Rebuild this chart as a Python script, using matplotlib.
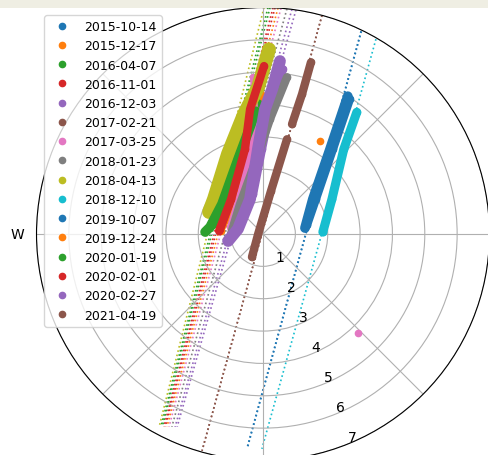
import numpy as np
import matplotlib
matplotlib.use('Agg')
import matplotlib.pyplot as plt
from matplotlib.patches import Rectangle

dates = ['2015-10-14', '2015-12-17', '2016-04-07', '2016-11-01', '2016-12-03',
         '2017-02-21', '2017-03-25', '2018-01-23', '2018-04-13', '2018-12-10',
         '2019-10-07', '2019-12-24', '2020-01-19', '2020-02-01', '2020-02-27',
         '2021-04-19']

# view azimuth (deg, clockwise from N) and zenith (deg) of the AOI pixels
band_az = [
    [32.8, 39.5, 56.6, 78.4],
    [359.2, 355.5, 350.0, 322.4, 274.1],
    [357.8, 344.9, 311.9, 280.0],
    [359.6, 353.3, 346.0, 311.4, 273.9],
    [6.9, 3.2, 359.3, 346.0, 293.5],
    [15.6, 15.6, 14.8],
    [356.4, 356.3, 352.0, 330.1, 282.0],
    [8.7, 3.5, 355.0, 322.0, 270.0],
    [1.86, 358.1, 351.0, 336.4, 305.5, 292.2],
    [37.6, 43.6, 63.1, 88.1],
    [31.6, 38.3, 55.0, 81.9],
    [31.5],
    [356.7, 341.6, 306.2, 277.5, 272.0],
    [0.34, 354.1, 348.0, 317.5, 276.6],
    [5.6, 3.6, 0.9, 356.6, 339.6, 281.3, 258.7],
    [14.2, 10.5, 270.0, 205.6],
]
band_zen = [
    [4.96, 3.40, 1.96, 1.39],
    [4.32, 3.56, 2.66, 1.36, 1.30],
    [4.02, 2.72, 1.62, 1.60],
    [4.94, 3.73, 2.55, 1.40, 1.36],
    [5.13, 3.86, 2.62, 1.27, 0.77],
    [5.51, 4.49, 3.51],
    [4.86, 3.87, 2.65, 1.42, 1.04],
    [4.90, 3.56, 2.33, 1.16, 0.99],
    [5.71, 4.54, 3.75, 2.70, 1.86, 1.80],
    [4.75, 3.62, 2.39, 1.85],
    [5.00, 3.34, 1.88, 1.31],
    [3.37],
    [3.80, 2.44, 1.57, 1.65, 1.79],
    [5.19, 3.88, 2.68, 1.46, 1.34],
    [5.37, 4.48, 3.86, 2.63, 1.15, 0.79, 1.10],
    [3.02, 1.35, 0.15, 0.79],
]
band_w = [6, 4.5, 7, 6, 6, 6, 4.5, 6, 10, 6.5, 7, 0, 7, 6, 8.5, 6]

# full scan line of each scene (end points)
line_az = [
    [25.9, 184.2], [3.79, 206.5], [1.26, 207.9], [2.53, 207.2], [7.34, 204.5],
    [15.1, 195.7], [4.55, 206.0], [6.07, 205.3], [0.25, 208.3], [30.1, 180.3],
    [25.8, 184.3], [], [1.77, 207.6], [3.03, 206.9], [8.37, 204.0],
    [15.1, 195.7],
]
line_zen = [
    [6.96, 6.65], [7.0, 6.65], [7.0, 6.74], [7.0, 6.70], [7.0, 6.55],
    [7.0, 6.96], [7.0, 6.63], [7.0, 6.59], [7.0, 6.77], [6.96, 6.64],
    [6.96, 6.65], [], [7.0, 6.72], [7.0, 6.68], [7.0, 6.52],
    [7.0, 6.96],
]

# odd single pixel
stray_idx = [6]
stray_az = [136.2]
stray_zen = [4.24]

fig = plt.figure(figsize=(4.88, 4.56), dpi=100)
ax = fig.add_axes([36.5/488, -5.5/456, 453/488, 453/456], projection='polar')
ax.set_theta_zero_location('N')
ax.set_theta_direction(-1)

handles = []
for i, d in enumerate(dates):
    c = 'C%d' % (i % 10)
    if line_az[i]:
        ax.plot(np.deg2rad(line_az[i]), line_zen[i], ':', color=c, lw=1.2, zorder=1.5)
    th = np.deg2rad(band_az[i])
    if band_w[i] > 0:
        ax.plot(th, band_zen[i], '-', color=c, lw=band_w[i],
                solid_capstyle='round', solid_joinstyle='round', zorder=2 + i*0.01)
    h, = ax.plot(th, band_zen[i], 'o', color=c, ms=4.5, label=d, zorder=2.005 + i*0.01)
    handles.append(h)

for k, a, z in zip(stray_idx, stray_az, stray_zen):
    ax.plot(np.deg2rad(a), z, 'o', color='C%d' % (k % 10), ms=4.5, zorder=3)

ax.set_ylim(0, 7)
ax.set_rticks(range(1, 8))
ax.set_rlabel_position(158)
# only W falls inside the picture
ax.set_thetagrids(range(0, 360, 45), ['', '', '', '', '', '', 'W', ''])
ax.tick_params(labelsize=10)

fig.legend(handles=handles, loc='upper left', bbox_to_anchor=(44/488, 1 - 16/456),
           borderaxespad=0, fontsize=9, numpoints=1)

fig.patches.append(Rectangle((0, 1 - 8.5/456), 1, 8.5/456, transform=fig.transFigure,
                             facecolor='#efeee3', edgecolor='none', zorder=10))

fig.savefig('out.png', dpi=100)
